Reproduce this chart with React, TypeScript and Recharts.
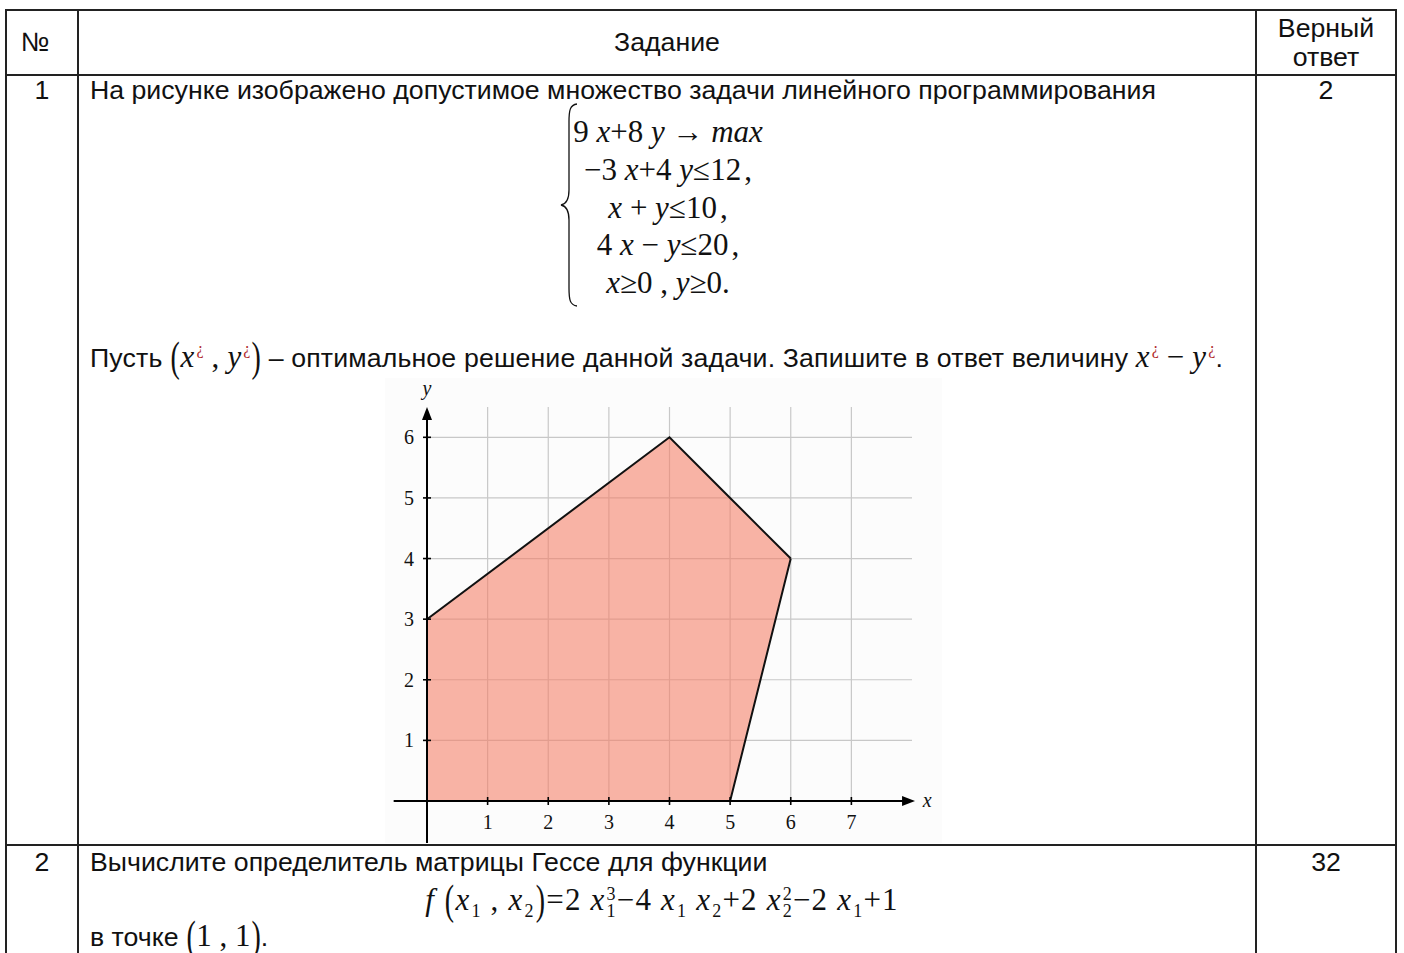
import React from 'react';
import {
  ComposedChart,
  Area,
  XAxis,
  YAxis,
  CartesianGrid,
  ReferenceLine,
  ReferenceDot,
} from 'recharts';

// axis ticks
const xTicks = [1, 2, 3, 4, 5, 6, 7];
const yTicks = [1, 2, 3, 4, 5, 6];

// feasible set: vertices (0,0) (0,3) (4,6) (6,4) (5,0), as lower/upper edge over x
const regionX = [0, 4, 5, 6];
const regionLow = [0, 0, 0, 4];
const regionHigh = [3, 6, 5, 4];

const regionData = regionX.map((x, i) => ({ x, range: [regionLow[i], regionHigh[i]] }));

const SANS = '"Liberation Sans", Arial, sans-serif';
const SERIF = '"Liberation Serif", "Times New Roman", serif';
const LINE = '#222';

const I = ({ children }: { children: React.ReactNode }) => (
  <span style={{ fontStyle: 'italic' }}>{children}</span>
);

// red "¿" placeholder that Word leaves in broken superscripts
const Q = () => (
  <span style={{ color: '#b0282a', fontSize: 16, verticalAlign: '0.8em', marginLeft: 2 }}>¿</span>
);

function Txt({
  x,
  y,
  children,
  center,
  style,
}: {
  x: number;
  y: number;
  children: React.ReactNode;
  center?: boolean;
  style?: React.CSSProperties;
}) {
  return (
    <div
      style={{
        position: 'absolute',
        left: x,
        top: y - 20,
        height: 40,
        lineHeight: '40px',
        whiteSpace: 'nowrap',
        fontFamily: SANS,
        fontSize: 26.7,
        color: '#111',
        transform: center ? 'translateX(-50%)' : undefined,
        ...style,
      }}
    >
      {children}
    </div>
  );
}

const Math = ({ children, size = 31 }: { children: React.ReactNode; size?: number }) => (
  <span style={{ fontFamily: SERIF, fontSize: size }}>{children}</span>
);

const Paren = ({ c, size = 31 }: { c: string; size?: number }) => (
  <span style={{ display: 'inline-block', transform: 'scale(0.9, 1.35)', fontFamily: SERIF, fontSize: size }}>
    {c}
  </span>
);

function XS({ sub, sup }: { sub: string; sup?: string }) {
  return (
    <span>
      <I>x</I>
      <span
        style={{
          display: 'inline-flex',
          flexDirection: 'column',
          fontSize: 18,
          lineHeight: '17px',
          verticalAlign: '10px',
          marginLeft: 1,
        }}
      >
        <span style={{ visibility: sup ? 'visible' : 'hidden' }}>{sup || '0'}</span>
        <span>{sub}</span>
      </span>
    </span>
  );
}

const XTick = (p: any) => (
  <g>
    <line x1={p.x} x2={p.x} y1={p.y - 4} y2={p.y + 4} stroke="#000" strokeWidth={1.6} />
    <text x={p.x} y={p.y + 28} textAnchor="middle" fontFamily={SERIF} fontSize={20} fill="#111">
      {p.payload.value}
    </text>
  </g>
);

const YTick = (p: any) => (
  <g>
    <line x1={p.x - 4} x2={p.x + 4} y1={p.y} y2={p.y} stroke="#000" strokeWidth={1.6} />
    <text x={p.x - 13} y={p.y + 7} textAnchor="end" fontFamily={SERIF} fontSize={20} fill="#111">
      {p.payload.value}
    </text>
  </g>
);

const ArrowRight = (p: any) => (
  <path d={`M${p.cx},${p.cy} L${p.cx - 13},${p.cy - 5} L${p.cx - 13},${p.cy + 5} Z`} fill="#000" />
);
const ArrowUp = (p: any) => (
  <path d={`M${p.cx},${p.cy} L${p.cx - 5},${p.cy + 13} L${p.cx + 5},${p.cy + 13} Z`} fill="#000" />
);
const AxisName = (name: string) => (p: any) => (
  <text x={p.cx} y={p.cy + 6} textAnchor="middle" fontFamily={SERIF} fontStyle="italic" fontSize={20} fill="#111">
    {name}
  </text>
);

function RegionChart() {
  return (
    <div style={{ position: 'absolute', left: 385, top: 378, width: 557, height: 465, background: '#fcfcfc' }}>
      <ComposedChart width={557} height={465} data={regionData} margin={{ top: 29, right: 30, bottom: 0, left: 0 }}>
        <CartesianGrid stroke="#c8c8c8" strokeWidth={1.2} horizontalValues={yTicks} verticalValues={xTicks} />
        <XAxis
          dataKey="x"
          type="number"
          domain={[0, 8]}
          ticks={xTicks}
          allowDataOverflow
          axisLine={false}
          tickLine={false}
          tickSize={0}
          tickMargin={0}
          height={42}
          tick={XTick}
        />
        <YAxis
          type="number"
          domain={[0, 6.5]}
          ticks={yTicks}
          allowDataOverflow
          axisLine={false}
          tickLine={false}
          tickSize={0}
          tickMargin={0}
          width={42}
          tick={YTick}
        />
        <Area
          type="linear"
          dataKey="range"
          stroke="#111"
          strokeWidth={2}
          fill="#f47e66"
          fillOpacity={0.58}
          dot={false}
          activeDot={false}
          isAnimationActive={false}
        />
        <ReferenceLine segment={[{ x: -0.55, y: 0 }, { x: 7.9, y: 0 }]} stroke="#000" strokeWidth={2} ifOverflow="visible" />
        <ReferenceLine segment={[{ x: 0, y: -0.7 }, { x: 0, y: 6.35 }]} stroke="#000" strokeWidth={2} ifOverflow="visible" />
        <ReferenceDot x={8.05} y={0} ifOverflow="visible" shape={ArrowRight} />
        <ReferenceDot x={0} y={6.5} ifOverflow="visible" shape={ArrowUp} />
        <ReferenceDot x={8.25} y={0} ifOverflow="visible" shape={AxisName('x')} />
        <ReferenceDot x={0} y={6.8} ifOverflow="visible" shape={AxisName('y')} />
      </ComposedChart>
    </div>
  );
}

function Brace() {
  return (
    <svg style={{ position: 'absolute', left: 558, top: 102 }} width={24} height={206}>
      <path
        d="M19,2 C12,3 11,8 11,20 L11,88 C11,98 8,102 3,103 C8,104 11,108 11,118 L11,186 C11,198 12,203 19,204"
        fill="none"
        stroke="#111"
        strokeWidth={1.3}
      />
    </svg>
  );
}

export default function App() {
  const hl = (y: number) => (
    <div style={{ position: 'absolute', left: 6, top: y - 1, width: 1391, height: 2, background: LINE }} />
  );
  const vl = (x: number) => (
    <div style={{ position: 'absolute', left: x - 1, top: 9, width: 2, height: 960, background: LINE }} />
  );
  return (
    <div style={{ position: 'absolute', left: 0, top: 0, width: 1404, height: 953, overflow: 'hidden', background: '#fff' }}>
      {hl(10)}
      {hl(75)}
      {hl(845)}
      {vl(6)}
      {vl(78)}
      {vl(1256)}
      {vl(1396)}

      <Txt x={21} y={42}>№</Txt>
      <Txt x={667} y={42} center>Задание</Txt>
      <Txt x={1326} y={28} center>Верный</Txt>
      <Txt x={1326} y={57} center>ответ</Txt>

      <Txt x={42} y={90} center>1</Txt>
      <Txt x={90} y={90}>На рисунке изображено допустимое множество задачи линейного программирования</Txt>
      <Txt x={1326} y={90} center>2</Txt>

      <Brace />
      <Txt x={668} y={132} center><Math>9 <I>x</I>+8 <I>y</I> → <I>max</I></Math></Txt>
      <Txt x={668} y={170} center><Math>−3 <I>x</I>+4 <I>y</I>≤12<span style={{ marginLeft: 3 }}>,</span></Math></Txt>
      <Txt x={668} y={208} center><Math><I>x</I> + <I>y</I>≤10<span style={{ marginLeft: 3 }}>,</span></Math></Txt>
      <Txt x={668} y={245} center><Math>4 <I>x</I> − <I>y</I>≤20<span style={{ marginLeft: 3 }}>,</span></Math></Txt>
      <Txt x={668} y={283} center><Math><I>x</I>≥0 , <I>y</I>≥0.</Math></Txt>

      <Txt x={90} y={349} style={{ letterSpacing: 0.15 }}>
        Пусть <Paren c="(" /><Math><I>x</I><Q /> , <I>y</I><Q /></Math><Paren c=")" /> – оптимальное решение данной задачи. Запишите в ответ величину{' '}
        <Math><I>x</I><Q /> − <I>y</I><Q /></Math>.
      </Txt>

      <RegionChart />

      <Txt x={42} y={862} center>2</Txt>
      <Txt x={90} y={862}>Вычислите определитель матрицы Гессе для функции</Txt>
      <Txt x={1326} y={862} center>32</Txt>
      <Txt x={662} y={900} center style={{ letterSpacing: 1.2 }}>
        <Math>
          <I>f</I> <Paren c="(" /><XS sub="1" /> , <XS sub="2" /><Paren c=")" />=2 <XS sub="1" sup="3" />−4 <XS sub="1" /> <XS sub="2" />+2 <XS sub="2" sup="2" />−2 <XS sub="1" />+1
        </Math>
      </Txt>
      <Txt x={90} y={936}>
        в точке <Paren c="(" /><Math>1 , 1</Math><Paren c=")" />.
      </Txt>
    </div>
  );
}
